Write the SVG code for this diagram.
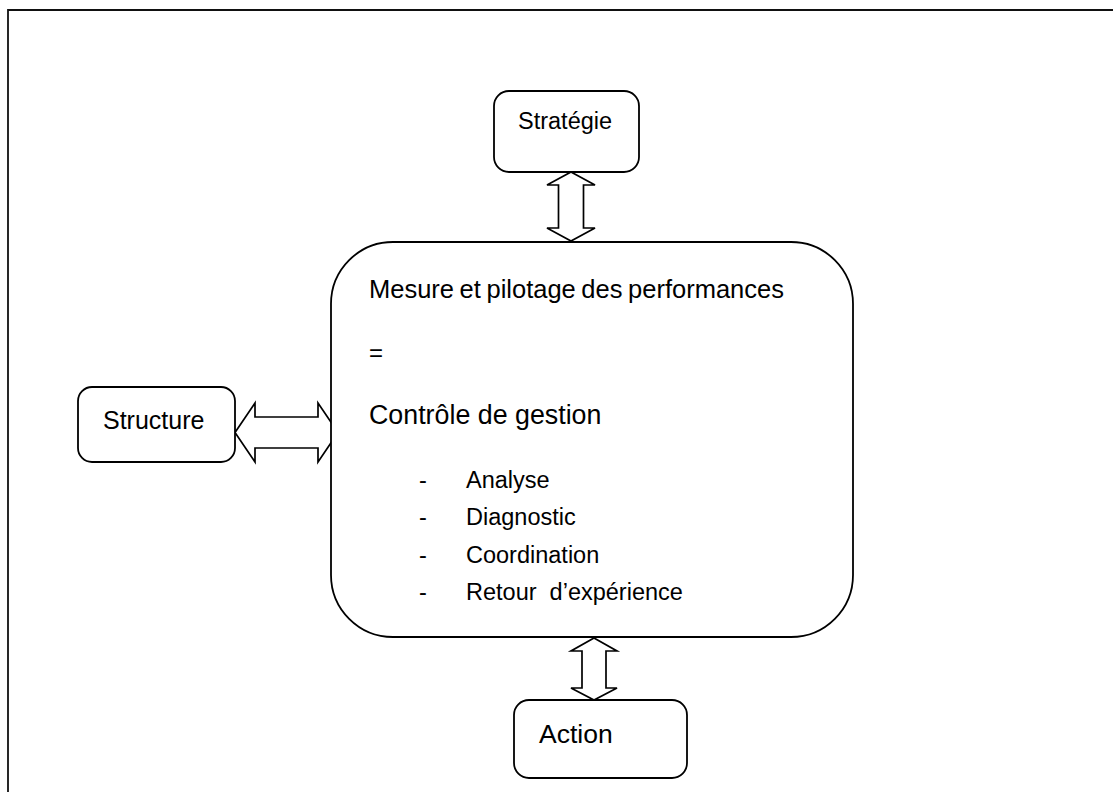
<svg xmlns="http://www.w3.org/2000/svg" width="1113" height="792" viewBox="0 0 1113 792">
<style>
.box{fill:#fff;stroke:#000;stroke-width:1.8}
.arr{fill:#fff;stroke:#000;stroke-width:1.7;stroke-linejoin:miter}
text{font-family:"Liberation Sans",Arial,sans-serif;fill:#000}
</style>
<rect width="1113" height="792" fill="#fff"/>
<path d="M8,792 V10 H1113" fill="none" stroke="#111" stroke-width="1.8"/>
<g id="connectors">
<path class="arr" d="M571,172 L595,185 L583.5,185 L583.5,228 L595,228 L571,241 L547,228 L558.5,228 L558.5,185 L547,185 Z"/>
<path class="arr" d="M235,432.5 L255,403 L255,417 L318,417 L318,403 L338,432.5 L318,462 L318,448 L255,448 L255,462 Z"/>
<path class="arr" d="M594,638 L617,651 L606,651 L606,688 L617,688 L594,700 L571,688 L582,688 L582,651 L571,651 Z"/>
</g>
<g id="strategie">
<rect class="box" x="494" y="91" width="145" height="81" rx="15"/>
<text x="518" y="129" font-size="23.5">Stratégie</text>
</g>
<g id="structure">
<rect class="box" x="78" y="387" width="157" height="75" rx="14"/>
<text x="103" y="429" font-size="25">Structure</text>
</g>
<g id="action">
<rect class="box" x="514" y="700" width="173" height="78" rx="15"/>
<text x="539" y="743" font-size="26.5">Action</text>
</g>
<g id="controle">
<rect class="box" x="331" y="242" width="522" height="395" rx="62"/>
<text x="369" y="298" font-size="25.5" word-spacing="-1.5">Mesure et pilotage des performances</text>
<text x="369" y="361" font-size="24">=</text>
<text x="369" y="424" font-size="26.8">Contrôle de gestion</text>
<g font-size="23.5">
<text x="419" y="488">-</text><text x="466" y="488">Analyse</text>
<text x="419" y="525">-</text><text x="466" y="525">Diagnostic</text>
<text x="419" y="563">-</text><text x="466" y="563">Coordination</text>
<text x="419" y="600">-</text><text x="466" y="600" xml:space="preserve">Retour  d’expérience</text>
</g>
</g>
</svg>
